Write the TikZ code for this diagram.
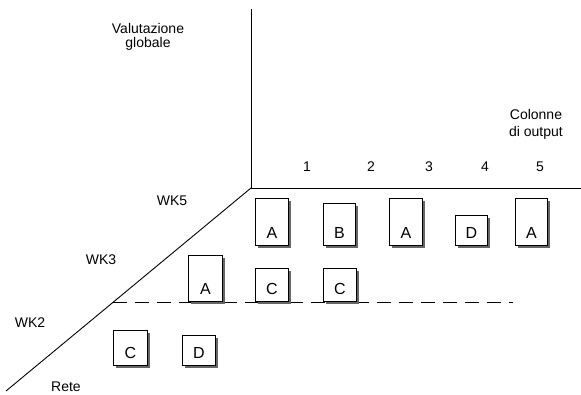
\documentclass[tikz,border=0pt]{standalone}
\usepackage{fontspec}
\setmainfont{Liberation Sans}
\usetikzlibrary{shadows}
\begin{document}
\begin{tikzpicture}[x=1pt,y=-1pt,
  axisline/.style={line width=0.9pt, black},
  dashline/.style={line width=0.8pt, black, dash pattern=on 14pt off 8pt},
  lbl/.style={font=\fontsize{14}{16}\selectfont, inner sep=0pt, align=center},
  num/.style={font=\fontsize{14}{16}\selectfont, inner sep=0pt},
  cell/.style={draw=black, line width=1pt, fill=white, inner sep=0pt, anchor=north west,
    general shadow={shadow xshift=2.6pt, shadow yshift=-2.2pt, fill=black!60}},
  letter/.style={font=\fontsize{16}{18}\selectfont, inner sep=0pt}
]
\useasboundingbox (0,0) rectangle (581,394);

% axes
\coordinate (O) at (251,188);
\coordinate (top) at (251,9);
\coordinate (right) at (581,188);
\coordinate (bl) at (6,391);
\coordinate (dstart) at (113,302);
\coordinate (dend) at (513,302);
\draw[axisline] (top) -- (O) -- (right);
\draw[axisline] (O) -- (bl);
\draw[dashline] (dstart) -- (dend);

% labels
\node[lbl] (val) at (148,36.5) {Valutazione\\[-2pt]globale};
\node[lbl] (col) at (536,124) {Colonne\\[1pt]di output};
\node[num] (n1) at (307,167) {1};
\node[num] (n2) at (371,167) {2};
\node[num] (n3) at (429,167) {3};
\node[num] (n4) at (485,167) {4};
\node[num] (n5) at (540,167) {5};
\node[lbl] (wk5) at (172,201) {WK5};
\node[lbl] (wk3) at (101,260) {WK3};
\node[lbl] (wk2) at (30,323) {WK2};
\node[lbl] (rete) at (66,387) {Rete};

% boxes row WK5
\node[cell, minimum width=33pt, minimum height=47pt] (b11) at (255,198) {};
\node[cell, minimum width=32pt, minimum height=42pt] (b12) at (323,203) {};
\node[cell, minimum width=33pt, minimum height=47pt] (b13) at (389,198) {};
\node[cell, minimum width=32pt, minimum height=30pt] (b14) at (455,215) {};
\node[cell, minimum width=32pt, minimum height=47pt] (b15) at (515,198) {};
% row WK3
\node[cell, minimum width=34pt, minimum height=46pt] (b21) at (188,255) {};
\node[cell, minimum width=33pt, minimum height=33pt] (b22) at (255,268) {};
\node[cell, minimum width=33pt, minimum height=33pt] (b23) at (323,268) {};
% row WK2
\node[cell, minimum width=34pt, minimum height=35pt] (b31) at (113,330) {};
\node[cell, minimum width=33pt, minimum height=30pt] (b32) at (182,335) {};

% letters
\node[letter] (t11) at ([yshift=13pt]b11.south) {A};
\node[letter] (t12) at ([yshift=13pt]b12.south) {B};
\node[letter] (t13) at ([yshift=13pt]b13.south) {A};
\node[letter] (t14) at ([yshift=13pt]b14.south) {D};
\node[letter] (t15) at ([yshift=13pt]b15.south) {A};
\node[letter] (t21) at ([yshift=13pt]b21.south) {A};
\node[letter] (t22) at ([yshift=13pt]b22.south) {C};
\node[letter] (t23) at ([yshift=13pt]b23.south) {C};
\node[letter] (t31) at ([yshift=13pt]b31.south) {C};
\node[letter] (t32) at ([yshift=13pt]b32.south) {D};
\end{tikzpicture}
\end{document}
